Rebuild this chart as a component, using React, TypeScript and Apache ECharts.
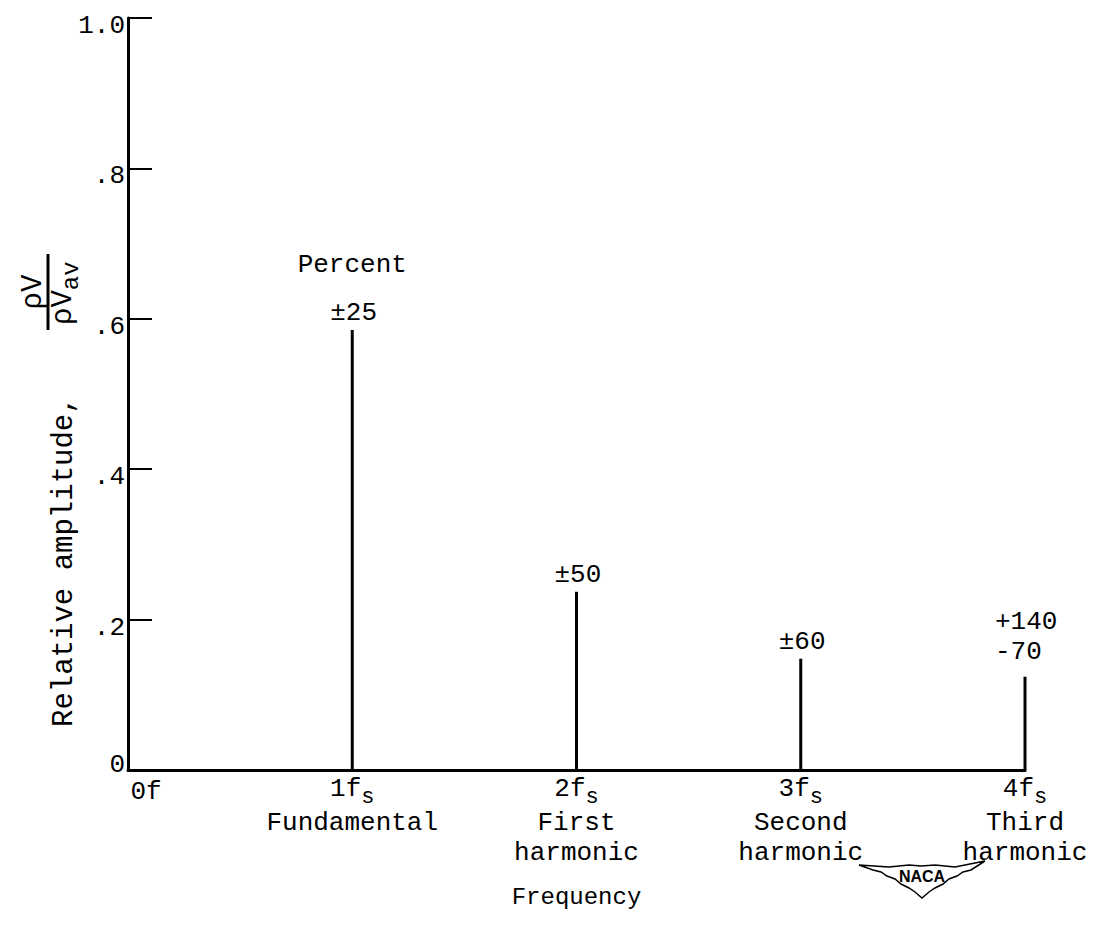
import React, { useEffect, useRef } from "react";
import * as echarts from "echarts";

// Harmonic multiples of the shedding frequency fs and their relative amplitudes
const harmonics = [1, 2, 3, 4];
const amplitudes = [0.585, 0.237, 0.148, 0.124];
// Scatter of each amplitude, percent
const percentLabels = [["±25"], ["±50"], ["±60"], ["+140", "-70"]];
const percentHeader = "Percent";

// Axis texts
const xTickMultiples = ["0", "1", "2", "3", "4"];
const harmonicNames = [[], ["Fundamental"], ["First", "harmonic"], ["Second", "harmonic"], ["Third", "harmonic"]];
const yTickLabels = ["0", ".2", ".4", ".6", ".8", "1.0"];
const xAxisTitle = "Frequency";
const yAxisTitle = "Relative amplitude,";

const FONT = '"Liberation Mono", "DejaVu Sans Mono", monospace';

// NACA wing emblem outline
const NACA_WING =
  "M0 7 L30 9 L50 7 L62 8 L76 7 L96 9 L126 3 L112 12 L104 14 L98 18 L90 21 L84 26 L76 30 L70 34 L63 40 L56 34 L50 30 L42 26 L36 21 L28 18 L22 14 L14 12 Z";
let wingRegistered = false;
function registerWing() {
  if (wingRegistered) return;
  echarts.graphic.registerShape("nacaWing", echarts.graphic.extendPath(NACA_WING, {}) as any);
  wingRegistered = true;
}

export default function App() {
  const ref = useRef<HTMLDivElement | null>(null);

  useEffect(() => {
    if (!ref.current) return;
    registerWing();
    const chart = echarts.init(ref.current, undefined, { renderer: "svg" });

    const titleSize = 29;
    // centre of the density-ratio fraction, measured along the rotated title
    const fracC = 435;

    const option: any = {
      animation: false,
      backgroundColor: "#fff",
      textStyle: { fontFamily: FONT, color: "#000" },
      grid: { left: 128, right: 90, top: 18, bottom: 175, containLabel: false, outerBoundsMode: "none" },
      xAxis: {
        type: "value",
        min: 0,
        max: 4,
        interval: 1,
        name: xAxisTitle,
        nameLocation: "middle",
        nameGap: 115,
        nameTextStyle: { fontFamily: FONT, fontSize: 24, color: "#000" },
        axisLine: { show: true, onZero: false, lineStyle: { color: "#000", width: 3 } },
        axisTick: { show: false },
        splitLine: { show: false },
        axisLabel: {
          showMinLabel: true,
          showMaxLabel: true,
          margin: 6,
          color: "#000",
          fontFamily: FONT,
          formatter: (v: number) => {
            const i = Math.round(v);
            if (i === 0) return `{z|${xTickMultiples[0]}f}`;
            const head = `{n|${xTickMultiples[i]}f}{s|s}`;
            const rows = harmonicNames[i].map((t) => `{d|${t}}`);
            return [head, ...rows].join("\n");
          },
          rich: {
            z: { fontFamily: FONT, fontSize: 26, color: "#000", padding: [0, 0, 0, 36], lineHeight: 32 },
            n: { fontFamily: FONT, fontSize: 26, color: "#000", lineHeight: 32, verticalAlign: "top" },
            s: { fontFamily: FONT, fontSize: 22, color: "#000", lineHeight: 22, padding: [10, 0, 0, 0], verticalAlign: "top" },
            d: { fontFamily: FONT, fontSize: 26, color: "#000", lineHeight: 30 },
          },
        },
      },
      yAxis: {
        type: "value",
        min: 0,
        max: 1,
        interval: 0.2,
        axisLine: { show: true, lineStyle: { color: "#000", width: 3 } },
        axisTick: { show: true, inside: true, length: 24, lineStyle: { color: "#000", width: 2 } },
        splitLine: { show: false },
        axisLabel: {
          showMinLabel: true,
          showMaxLabel: true,
          margin: 3,
          color: "#000",
          fontFamily: FONT,
          formatter: (v: number) => {
            const i = Math.round(v * 5);
            return i === 0 ? `{z|${yTickLabels[i]}}` : `{v|${yTickLabels[i]}}`;
          },
          rich: {
            v: { fontFamily: FONT, fontSize: 26, color: "#000", padding: [16, 0, 0, 0] },
            z: { fontFamily: FONT, fontSize: 26, color: "#000", padding: [0, 0, 10, 0] },
          },
        },
      },
      graphic: [
        {
          type: "group",
          x: 64,
          y: 727,
          rotation: Math.PI / 2,
          children: [
            {
              type: "text",
              x: 0,
              y: 0,
              style: { text: yAxisTitle, font: `${titleSize}px ${FONT}`, fill: "#000", align: "left", verticalAlign: "middle" },
            },
            {
              type: "text",
              x: fracC,
              y: -31,
              style: { text: "ρV", font: `${titleSize}px ${FONT}`, fill: "#000", align: "center", verticalAlign: "middle" },
            },
            {
              type: "line",
              shape: { x1: fracC - 38, y1: -16, x2: fracC + 38, y2: -16 },
              style: { stroke: "#000", lineWidth: 3 },
            },
            {
              type: "text",
              x: fracC - 33,
              y: 0,
              style: {
                text: "{a|ρV}{b|av}",
                align: "left",
                verticalAlign: "middle",
                rich: {
                  a: { fontFamily: FONT, fontSize: titleSize, fill: "#000", lineHeight: 30, verticalAlign: "top" },
                  b: { fontFamily: FONT, fontSize: 24, fill: "#000", lineHeight: 22, padding: [10, 0, 0, 0], verticalAlign: "top" },
                },
              },
            },
          ],
        },
        {
          type: "group",
          x: 859,
          y: 858,
          children: [
            { type: "nacaWing", x: 0, y: 0, style: { fill: "#fff", stroke: "#000", lineWidth: 1.5 } },
            {
              type: "text",
              x: 63,
              y: 18,
              style: { text: "NACA", font: `bold 16px "Liberation Sans", Arial, sans-serif`, fill: "#000", align: "center", verticalAlign: "middle" },
            },
          ],
        },
      ],
      series: [
        {
          type: "custom",
          coordinateSystem: "cartesian2d",
          data: harmonics.map((h, i) => [h, amplitudes[i], i]),
          renderItem: (_params: any, api: any) => {
            const x = api.value(0);
            const y = api.value(1);
            const i = api.value(2);
            const top = api.coord([x, y]);
            const base = api.coord([x, 0]);
            const lines = percentLabels[i];
            const multi = lines.length > 1;
            const children: any[] = [
              {
                type: "line",
                shape: { x1: top[0], y1: top[1], x2: base[0], y2: base[1] },
                style: { stroke: "#000", lineWidth: 3 },
              },
            ];
            // one text per line of the percent annotation, stacked upward from the bar top
            const lineGap = 30;
            lines.forEach((t, k) => {
              const fromBottom = lines.length - 1 - k;
              children.push({
                type: "text",
                x: top[0] - (multi ? 30 : 22),
                y: top[1] - (multi ? 12 : 4) - fromBottom * lineGap,
                style: {
                  text: t,
                  font: `26px ${FONT}`,
                  fill: "#000",
                  align: "left",
                  verticalAlign: "bottom",
                },
              });
            });
            if (i === 0) {
              children.push({
                type: "text",
                x: top[0],
                y: top[1] - 65,
                style: { text: percentHeader, font: `26px ${FONT}`, fill: "#000", align: "center", verticalAlign: "middle" },
              });
            }
            return { type: "group", children };
          },
        },
      ],
    };

    chart.setOption(option);
    return () => chart.dispose();
  }, []);

  return (
    <div
      ref={ref}
      style={{ position: "fixed", left: 0, top: 0, width: 1115, height: 945, background: "#fff" }}
    />
  );
}
